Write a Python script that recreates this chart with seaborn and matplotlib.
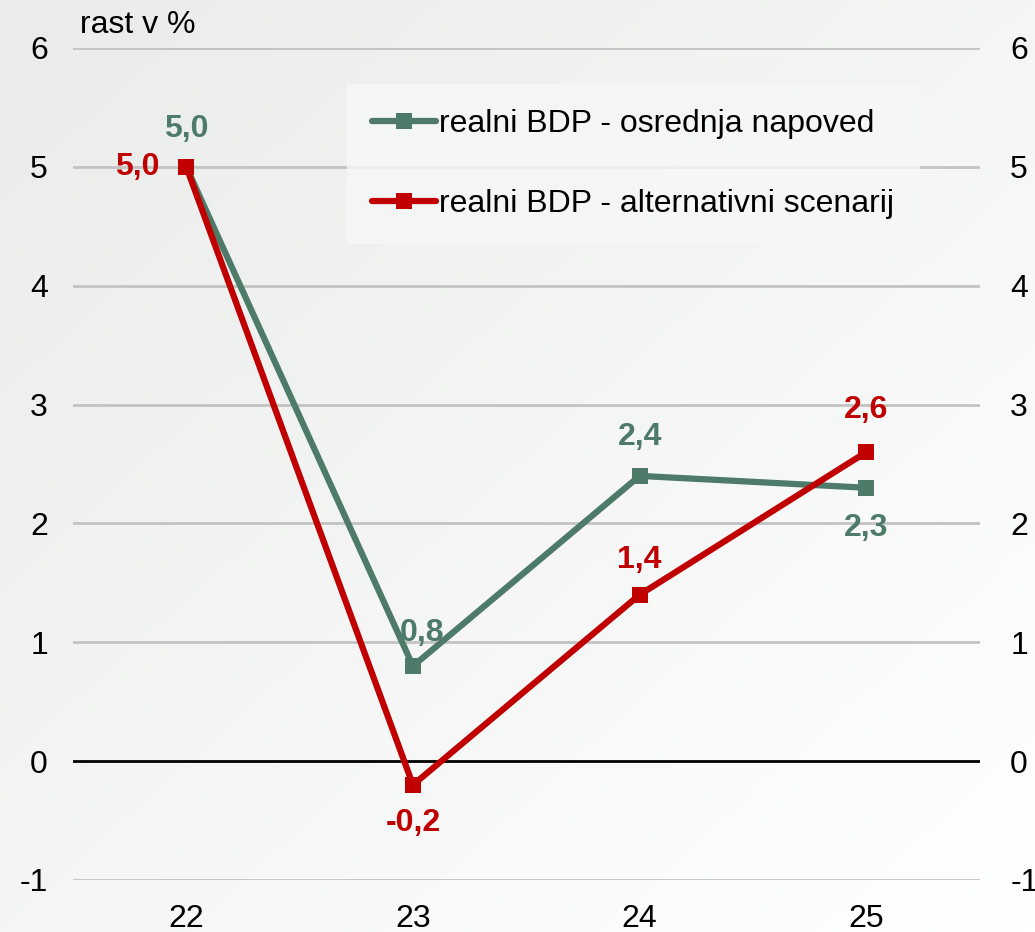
import numpy as np
import pandas as pd
import seaborn as sns
import matplotlib.pyplot as plt

years = ["22", "23", "24", "25"]
osrednja = [5.0, 0.8, 2.4, 2.3]
alternativni = [5.0, -0.2, 1.4, 2.6]
series_names = ["realni BDP - osrednja napoved", "realni BDP - alternativni scenarij"]
y_ticks = [-1, 0, 1, 2, 3, 4, 5, 6]

GREEN = "#4d7a69"
RED = "#c00000"

sns.set_style("white")
plt.rcParams["font.family"] = ["Liberation Sans", "DejaVu Sans"]
plt.rcParams["text.color"] = "black"
plt.rcParams["xtick.color"] = "black"
plt.rcParams["ytick.color"] = "black"

df = pd.DataFrame({
    "pos": list(range(len(years))) * 2,
    "value": osrednja + alternativni,
    "series": [series_names[0]] * len(years) + [series_names[1]] * len(years),
})

fig = plt.figure(figsize=(10.35, 9.32), dpi=100)

# soft grey-to-white background
bg = fig.add_axes([0, 0, 1, 1], zorder=-10)
gx, gy = np.meshgrid(np.linspace(0, 1, 200), np.linspace(0, 1, 200))
grad = (gx + gy) / 2
bg.imshow(grad, cmap=sns.blend_palette(["#e9ecea", "#ffffff"], as_cmap=True),
          extent=[0, 1, 0, 1], aspect="auto", origin="upper")
bg.axis("off")

ax = fig.add_axes([0.0705, 0.0558, 0.876, 0.8927])
ax.patch.set_alpha(0)

for y in y_ticks:
    if y == 0:
        ax.axhline(y, color="black", lw=2, zorder=1)
    else:
        ax.axhline(y, color="#c3c3c3", lw=2, zorder=1)

sns.lineplot(data=df, x="pos", y="value", hue="series", style="series",
             palette=[GREEN, RED], markers=["s", "s"], dashes=False,
             linewidth=4.5, markersize=12, markeredgewidth=0, ax=ax, zorder=3)

FS = 23
ax.set_xlim(-0.5, 3.5)
ax.set_ylim(-1, 6)
ax.set_xticks(range(len(years)))
ax.set_xticklabels(years)
ax.set_yticks(y_ticks)
ax.set_yticklabels([str(t) for t in y_ticks])
ax.tick_params(axis="both", length=0, labelsize=FS)
ax.tick_params(axis="x", pad=17)
ax.tick_params(axis="y", pad=18)
ax.set_xlabel("")
ax.set_ylabel("")
for s in ax.spines.values():
    s.set_visible(False)

ax2 = ax.twinx()
ax2.set_ylim(-1, 6)
ax2.set_yticks(y_ticks)
ax2.set_yticklabels([str(t) for t in y_ticks])
ax2.tick_params(axis="y", length=0, labelsize=FS, pad=22)
for s in ax2.spines.values():
    s.set_visible(False)

# data label offsets in pixels (dx, dy), converted to points
px = 0.72
offsets_g = [(0, 38), (9, 33), (0, 39), (0, -40)]
offsets_r = [(-49, 0), (0, -38), (0, 35), (0, 42)]
for i, (vg, vr) in enumerate(zip(osrednja, alternativni)):
    for v, (dx, dy), col in ((vg, offsets_g[i], GREEN), (vr, offsets_r[i], RED)):
        ax.annotate(f"{v:.1f}".replace(".", ","), (i, v),
                    xytext=(dx * px, dy * px), textcoords="offset points",
                    ha="center", va="center", fontsize=FS, fontweight="bold",
                    color=col)

ax.text(0.008, 1.028, "rast v %", transform=ax.transAxes, fontsize=FS,
        ha="left", va="center")

leg = ax.legend(loc="upper left", bbox_to_anchor=(0.302, 0.957), frameon=True,
                fontsize=FS, handlelength=2.0, handletextpad=0.1,
                labelspacing=1.55, borderpad=0.8, borderaxespad=0,
                fancybox=False)
leg.get_frame().set_facecolor("#f6f7f7")
leg.get_frame().set_edgecolor("none")

fig.savefig("out.png", dpi=100)
